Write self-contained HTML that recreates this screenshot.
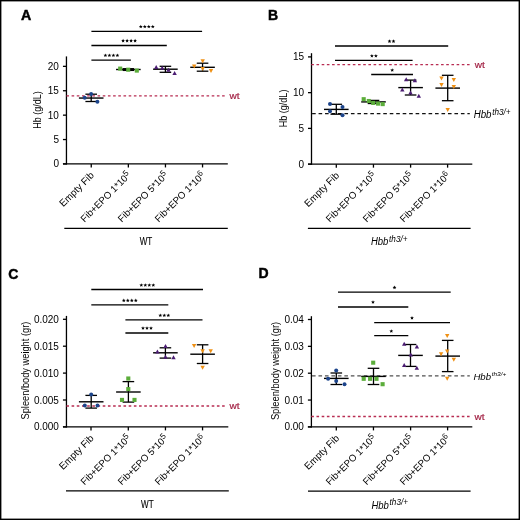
<!DOCTYPE html>
<html><head><meta charset="utf-8"><title>Figure</title>
<style>
html,body{margin:0;padding:0;background:#fff;}
body{width:520px;height:520px;overflow:hidden;}
.fig{position:relative;width:520px;height:520px;box-sizing:border-box;}
svg{position:absolute;left:0;top:0;display:block;will-change:transform;}
text{font-family:"Liberation Sans", sans-serif;}
</style></head>
<body><div class="fig">
<svg width="520" height="520" viewBox="0 0 520 520" font-family='"Liberation Sans", sans-serif'>
<rect x="0" y="0" width="520" height="520" fill="#fff"/>
<text x="21.00" y="20.20" font-size="14.2" text-anchor="start" fill="#000" font-weight="bold" stroke="#000" stroke-width="0.45">A</text>
<line x1="66.45" y1="56.40" x2="66.45" y2="164.60" stroke="#000" stroke-width="1.3" />
<line x1="62.95" y1="163.95" x2="227.80" y2="163.95" stroke="#000" stroke-width="1.3" />
<line x1="62.95" y1="163.95" x2="66.45" y2="163.95" stroke="#000" stroke-width="1.3" />
<text x="58.95" y="167.45" font-size="10" text-anchor="end" fill="#000" >0</text>
<line x1="62.95" y1="139.55" x2="66.45" y2="139.55" stroke="#000" stroke-width="1.3" />
<text x="58.95" y="143.05" font-size="10" text-anchor="end" fill="#000" >5</text>
<line x1="62.95" y1="115.15" x2="66.45" y2="115.15" stroke="#000" stroke-width="1.3" />
<text x="58.95" y="118.65" font-size="10" text-anchor="end" fill="#000" >10</text>
<line x1="62.95" y1="90.75" x2="66.45" y2="90.75" stroke="#000" stroke-width="1.3" />
<text x="58.95" y="94.25" font-size="10" text-anchor="end" fill="#000" >15</text>
<line x1="62.95" y1="66.35" x2="66.45" y2="66.35" stroke="#000" stroke-width="1.3" />
<text x="58.95" y="69.85" font-size="10" text-anchor="end" fill="#000" >20</text>
<line x1="91.25" y1="163.95" x2="91.25" y2="167.45" stroke="#000" stroke-width="1.3" />
<line x1="128.35" y1="163.95" x2="128.35" y2="167.45" stroke="#000" stroke-width="1.3" />
<line x1="165.45" y1="163.95" x2="165.45" y2="167.45" stroke="#000" stroke-width="1.3" />
<line x1="202.55" y1="163.95" x2="202.55" y2="167.45" stroke="#000" stroke-width="1.3" />
<text x="41.30" y="110.00" font-size="11.2" text-anchor="middle" textLength="37.5" lengthAdjust="spacingAndGlyphs" transform="rotate(-90 41.30 110.00)">Hb (g/dL)</text>
<line x1="66.40" y1="95.90" x2="224.80" y2="95.90" stroke="#b82c52" stroke-width="1.4" stroke-dasharray="2.6 2.59"/>
<text x="229.60" y="98.50" font-size="9.3" fill="#a21f42" stroke="#a21f42" stroke-width="0.18" textLength="10.1" lengthAdjust="spacingAndGlyphs">wt</text>
<line x1="78.90" y1="98.05" x2="103.50" y2="98.05" stroke="#000" stroke-width="1.4" />
<line x1="85.40" y1="94.20" x2="97.00" y2="94.20" stroke="#000" stroke-width="1.3" />
<line x1="85.40" y1="101.50" x2="97.00" y2="101.50" stroke="#000" stroke-width="1.3" />
<line x1="91.20" y1="94.20" x2="91.20" y2="101.50" stroke="#000" stroke-width="1.3" />
<circle cx="84.70" cy="97.80" r="2.0" fill="#1c448b"/>
<circle cx="91.10" cy="94.00" r="2.0" fill="#1c448b"/>
<circle cx="97.40" cy="101.65" r="2.0" fill="#1c448b"/>
<line x1="116.05" y1="69.50" x2="140.65" y2="69.50" stroke="#000" stroke-width="1.4" />
<line x1="122.55" y1="68.70" x2="134.15" y2="68.70" stroke="#000" stroke-width="1.3" />
<line x1="122.55" y1="70.40" x2="134.15" y2="70.40" stroke="#000" stroke-width="1.3" />
<line x1="128.35" y1="68.70" x2="128.35" y2="70.40" stroke="#000" stroke-width="1.3" />
<rect x="118.15" y="66.55" width="4.1" height="4.1" fill="#5bad3a"/>
<rect x="126.15" y="67.65" width="4.1" height="4.1" fill="#5bad3a"/>
<rect x="134.75" y="68.55" width="4.1" height="4.1" fill="#5bad3a"/>
<line x1="153.10" y1="69.20" x2="177.70" y2="69.20" stroke="#000" stroke-width="1.4" />
<line x1="159.60" y1="66.30" x2="171.20" y2="66.30" stroke="#000" stroke-width="1.3" />
<line x1="159.60" y1="72.30" x2="171.20" y2="72.30" stroke="#000" stroke-width="1.3" />
<line x1="165.40" y1="66.30" x2="165.40" y2="72.30" stroke="#000" stroke-width="1.3" />
<polygon points="156.20,65.10 158.40,69.10 154.00,69.10" fill="#4b1c73"/>
<polygon points="162.20,65.70 164.40,69.70 160.00,69.70" fill="#4b1c73"/>
<polygon points="168.50,67.80 170.70,71.80 166.30,71.80" fill="#4b1c73"/>
<polygon points="174.60,71.10 176.80,75.10 172.40,75.10" fill="#4b1c73"/>
<line x1="190.25" y1="67.30" x2="214.85" y2="67.30" stroke="#000" stroke-width="1.4" />
<line x1="196.75" y1="63.20" x2="208.35" y2="63.20" stroke="#000" stroke-width="1.3" />
<line x1="196.75" y1="71.20" x2="208.35" y2="71.20" stroke="#000" stroke-width="1.3" />
<line x1="202.55" y1="63.20" x2="202.55" y2="71.20" stroke="#000" stroke-width="1.3" />
<polygon points="194.20,68.40 196.40,64.40 192.00,64.40" fill="#ef9014"/>
<polygon points="202.70,63.20 204.90,59.20 200.50,59.20" fill="#ef9014"/>
<polygon points="202.70,70.90 204.90,66.90 200.50,66.90" fill="#ef9014"/>
<polygon points="211.00,73.00 213.20,69.00 208.80,69.00" fill="#ef9014"/>
<line x1="91.40" y1="31.40" x2="202.10" y2="31.40" stroke="#000" stroke-width="1.3" />
<polygon points="140.80,24.70 141.33,25.97 142.70,26.08 141.66,26.98 141.98,28.32 140.80,27.60 139.62,28.32 139.94,26.98 138.90,26.08 140.27,25.97" fill="#000"/>
<polygon points="144.80,24.70 145.33,25.97 146.70,26.08 145.66,26.98 145.98,28.32 144.80,27.60 143.62,28.32 143.94,26.98 142.90,26.08 144.27,25.97" fill="#000"/>
<polygon points="148.80,24.70 149.33,25.97 150.70,26.08 149.66,26.98 149.98,28.32 148.80,27.60 147.62,28.32 147.94,26.98 146.90,26.08 148.27,25.97" fill="#000"/>
<polygon points="152.80,24.70 153.33,25.97 154.70,26.08 153.66,26.98 153.98,28.32 152.80,27.60 151.62,28.32 151.94,26.98 150.90,26.08 152.27,25.97" fill="#000"/>
<line x1="91.40" y1="45.50" x2="166.80" y2="45.50" stroke="#000" stroke-width="1.3" />
<polygon points="123.10,38.80 123.63,40.07 125.00,40.18 123.96,41.08 124.28,42.42 123.10,41.70 121.92,42.42 122.24,41.08 121.20,40.18 122.57,40.07" fill="#000"/>
<polygon points="127.10,38.80 127.63,40.07 129.00,40.18 127.96,41.08 128.28,42.42 127.10,41.70 125.92,42.42 126.24,41.08 125.20,40.18 126.57,40.07" fill="#000"/>
<polygon points="131.10,38.80 131.63,40.07 133.00,40.18 131.96,41.08 132.28,42.42 131.10,41.70 129.92,42.42 130.24,41.08 129.20,40.18 130.57,40.07" fill="#000"/>
<polygon points="135.10,38.80 135.63,40.07 137.00,40.18 135.96,41.08 136.28,42.42 135.10,41.70 133.92,42.42 134.24,41.08 133.20,40.18 134.57,40.07" fill="#000"/>
<line x1="91.40" y1="60.06" x2="130.90" y2="60.06" stroke="#000" stroke-width="1.3" />
<polygon points="105.40,53.40 105.93,54.67 107.30,54.78 106.26,55.68 106.58,57.02 105.40,56.30 104.22,57.02 104.54,55.68 103.50,54.78 104.87,54.67" fill="#000"/>
<polygon points="109.40,53.40 109.93,54.67 111.30,54.78 110.26,55.68 110.58,57.02 109.40,56.30 108.22,57.02 108.54,55.68 107.50,54.78 108.87,54.67" fill="#000"/>
<polygon points="113.40,53.40 113.93,54.67 115.30,54.78 114.26,55.68 114.58,57.02 113.40,56.30 112.22,57.02 112.54,55.68 111.50,54.78 112.87,54.67" fill="#000"/>
<polygon points="117.40,53.40 117.93,54.67 119.30,54.78 118.26,55.68 118.58,57.02 117.40,56.30 116.22,57.02 116.54,55.68 115.50,54.78 116.87,54.67" fill="#000"/>
<text x="94.75" y="175.95" font-size="9.9" text-anchor="end" transform="rotate(-45 94.75 175.95)">Empty Fib</text>
<text x="131.55" y="175.75" font-size="9.65" text-anchor="end" transform="rotate(-45 131.55 175.75)">Fib+EPO 1*10<tspan dy="-3.2" font-size="8.2">5</tspan></text>
<text x="168.65" y="175.75" font-size="9.65" text-anchor="end" transform="rotate(-45 168.65 175.75)">Fib+EPO 5*10<tspan dy="-3.2" font-size="8.2">5</tspan></text>
<text x="205.75" y="175.75" font-size="9.65" text-anchor="end" transform="rotate(-45 205.75 175.75)">Fib+EPO 1*10<tspan dy="-3.2" font-size="8.2">6</tspan></text>
<line x1="64.30" y1="228.40" x2="227.80" y2="228.40" stroke="#000" stroke-width="1.25" />
<text x="146.00" y="244.60" font-size="10.6" text-anchor="middle" stroke="#000" stroke-width="0.12" textLength="12.6" lengthAdjust="spacingAndGlyphs">WT</text>
<text x="268.00" y="20.10" font-size="14.0" text-anchor="start" fill="#000" font-weight="bold" stroke="#000" stroke-width="0.45">B</text>
<line x1="311.50" y1="53.20" x2="311.50" y2="164.80" stroke="#000" stroke-width="1.3" />
<line x1="308.00" y1="164.15" x2="472.30" y2="164.15" stroke="#000" stroke-width="1.3" />
<line x1="308.00" y1="164.15" x2="311.50" y2="164.15" stroke="#000" stroke-width="1.3" />
<text x="304.00" y="167.65" font-size="10" text-anchor="end" fill="#000" >0</text>
<line x1="308.00" y1="128.40" x2="311.50" y2="128.40" stroke="#000" stroke-width="1.3" />
<text x="304.00" y="131.90" font-size="10" text-anchor="end" fill="#000" >5</text>
<line x1="308.00" y1="92.65" x2="311.50" y2="92.65" stroke="#000" stroke-width="1.3" />
<text x="304.00" y="96.15" font-size="10" text-anchor="end" fill="#000" >10</text>
<line x1="308.00" y1="56.90" x2="311.50" y2="56.90" stroke="#000" stroke-width="1.3" />
<text x="304.00" y="60.40" font-size="10" text-anchor="end" fill="#000" >15</text>
<line x1="336.30" y1="164.15" x2="336.30" y2="167.65" stroke="#000" stroke-width="1.3" />
<line x1="373.45" y1="164.15" x2="373.45" y2="167.65" stroke="#000" stroke-width="1.3" />
<line x1="410.60" y1="164.15" x2="410.60" y2="167.65" stroke="#000" stroke-width="1.3" />
<line x1="447.60" y1="164.15" x2="447.60" y2="167.65" stroke="#000" stroke-width="1.3" />
<text x="286.70" y="108.40" font-size="11.2" text-anchor="middle" textLength="37.6" lengthAdjust="spacingAndGlyphs" transform="rotate(-90 286.70 108.40)">Hb (g/dL)</text>
<line x1="311.30" y1="64.60" x2="470.00" y2="64.60" stroke="#b82c52" stroke-width="1.4" stroke-dasharray="2.6 2.59"/>
<text x="474.80" y="67.70" font-size="9.3" fill="#a21f42" stroke="#a21f42" stroke-width="0.18" textLength="10.1" lengthAdjust="spacingAndGlyphs">wt</text>
<line x1="312.10" y1="113.60" x2="469.80" y2="113.60" stroke="#111" stroke-width="1.35" stroke-dasharray="3.6 2.87"/>
<text x="473.70" y="118.30" font-size="10" font-style="italic" textLength="17.8" lengthAdjust="spacingAndGlyphs">Hbb</text>
<text x="492.20" y="114.70" font-size="8.6" font-style="italic" textLength="18.4" lengthAdjust="spacingAndGlyphs">th3/+</text>
<line x1="324.00" y1="109.40" x2="348.60" y2="109.40" stroke="#000" stroke-width="1.4" />
<line x1="330.50" y1="104.30" x2="342.10" y2="104.30" stroke="#000" stroke-width="1.3" />
<line x1="330.50" y1="114.20" x2="342.10" y2="114.20" stroke="#000" stroke-width="1.3" />
<line x1="336.30" y1="104.30" x2="336.30" y2="114.20" stroke="#000" stroke-width="1.3" />
<circle cx="330.00" cy="104.00" r="2.0" fill="#1c448b"/>
<circle cx="342.50" cy="107.00" r="2.0" fill="#1c448b"/>
<circle cx="330.00" cy="111.20" r="2.0" fill="#1c448b"/>
<circle cx="342.50" cy="115.30" r="2.0" fill="#1c448b"/>
<line x1="361.20" y1="101.90" x2="385.80" y2="101.90" stroke="#000" stroke-width="1.4" />
<line x1="367.70" y1="100.40" x2="379.30" y2="100.40" stroke="#000" stroke-width="1.3" />
<line x1="367.70" y1="103.50" x2="379.30" y2="103.50" stroke="#000" stroke-width="1.3" />
<line x1="373.50" y1="100.40" x2="373.50" y2="103.50" stroke="#000" stroke-width="1.3" />
<rect x="361.65" y="97.15" width="4.1" height="4.1" fill="#5bad3a"/>
<rect x="366.75" y="98.95" width="4.1" height="4.1" fill="#5bad3a"/>
<rect x="371.15" y="100.85" width="4.1" height="4.1" fill="#5bad3a"/>
<rect x="376.05" y="101.55" width="4.1" height="4.1" fill="#5bad3a"/>
<rect x="380.65" y="102.05" width="4.1" height="4.1" fill="#5bad3a"/>
<line x1="398.30" y1="87.60" x2="422.90" y2="87.60" stroke="#000" stroke-width="1.4" />
<line x1="404.80" y1="80.10" x2="416.40" y2="80.10" stroke="#000" stroke-width="1.3" />
<line x1="404.80" y1="95.00" x2="416.40" y2="95.00" stroke="#000" stroke-width="1.3" />
<line x1="410.60" y1="80.10" x2="410.60" y2="95.00" stroke="#000" stroke-width="1.3" />
<polygon points="406.20,77.20 408.40,81.20 404.00,81.20" fill="#4b1c73"/>
<polygon points="414.90,78.30 417.10,82.30 412.70,82.30" fill="#4b1c73"/>
<polygon points="402.30,87.50 404.50,91.50 400.10,91.50" fill="#4b1c73"/>
<polygon points="410.50,90.60 412.70,94.60 408.30,94.60" fill="#4b1c73"/>
<polygon points="418.80,93.80 421.00,97.80 416.60,97.80" fill="#4b1c73"/>
<line x1="435.40" y1="88.10" x2="460.00" y2="88.10" stroke="#000" stroke-width="1.4" />
<line x1="441.90" y1="75.30" x2="453.50" y2="75.30" stroke="#000" stroke-width="1.3" />
<line x1="441.90" y1="100.70" x2="453.50" y2="100.70" stroke="#000" stroke-width="1.3" />
<line x1="447.70" y1="75.30" x2="447.70" y2="100.70" stroke="#000" stroke-width="1.3" />
<polygon points="441.50,80.50 443.70,76.50 439.30,76.50" fill="#ef9014"/>
<polygon points="453.80,82.00 456.00,78.00 451.60,78.00" fill="#ef9014"/>
<polygon points="441.50,87.10 443.70,83.10 439.30,83.10" fill="#ef9014"/>
<polygon points="453.80,88.90 456.00,84.90 451.60,84.90" fill="#ef9014"/>
<polygon points="447.70,112.00 449.90,108.00 445.50,108.00" fill="#ef9014"/>
<line x1="335.00" y1="46.00" x2="448.20" y2="46.00" stroke="#000" stroke-width="1.3" />
<polygon points="389.50,39.30 390.03,40.57 391.40,40.68 390.36,41.58 390.68,42.92 389.50,42.20 388.32,42.92 388.64,41.58 387.60,40.68 388.97,40.57" fill="#000"/>
<polygon points="393.50,39.30 394.03,40.57 395.40,40.68 394.36,41.58 394.68,42.92 393.50,42.20 392.32,42.92 392.64,41.58 391.60,40.68 392.97,40.57" fill="#000"/>
<line x1="335.00" y1="60.45" x2="412.60" y2="60.45" stroke="#000" stroke-width="1.3" />
<polygon points="371.90,53.90 372.43,55.17 373.80,55.28 372.76,56.18 373.08,57.52 371.90,56.80 370.72,57.52 371.04,56.18 370.00,55.28 371.37,55.17" fill="#000"/>
<polygon points="375.90,53.90 376.43,55.17 377.80,55.28 376.76,56.18 377.08,57.52 375.90,56.80 374.72,57.52 375.04,56.18 374.00,55.28 375.37,55.17" fill="#000"/>
<line x1="371.20" y1="74.50" x2="413.00" y2="74.50" stroke="#000" stroke-width="1.3" />
<polygon points="392.20,68.20 392.73,69.47 394.10,69.58 393.06,70.48 393.38,71.82 392.20,71.10 391.02,71.82 391.34,70.48 390.30,69.58 391.67,69.47" fill="#000"/>
<text x="339.80" y="176.15" font-size="9.9" text-anchor="end" transform="rotate(-45 339.80 176.15)">Empty Fib</text>
<text x="376.65" y="175.95" font-size="9.65" text-anchor="end" transform="rotate(-45 376.65 175.95)">Fib+EPO 1*10<tspan dy="-3.2" font-size="8.2">5</tspan></text>
<text x="413.80" y="175.95" font-size="9.65" text-anchor="end" transform="rotate(-45 413.80 175.95)">Fib+EPO 5*10<tspan dy="-3.2" font-size="8.2">5</tspan></text>
<text x="450.80" y="175.95" font-size="9.65" text-anchor="end" transform="rotate(-45 450.80 175.95)">Fib+EPO 1*10<tspan dy="-3.2" font-size="8.2">6</tspan></text>
<line x1="307.90" y1="228.40" x2="470.60" y2="228.40" stroke="#000" stroke-width="1.25" />
<text x="371.00" y="245.40" font-size="10" font-style="italic" textLength="17.4" lengthAdjust="spacingAndGlyphs">Hbb</text>
<text x="389.10" y="241.80" font-size="8.6" font-style="italic" textLength="18.4" lengthAdjust="spacingAndGlyphs">th3/+</text>
<text x="8.30" y="278.50" font-size="14.0" text-anchor="start" fill="#000" font-weight="bold" stroke="#000" stroke-width="0.45">C</text>
<line x1="66.45" y1="315.90" x2="66.45" y2="427.55" stroke="#000" stroke-width="1.3" />
<line x1="62.95" y1="426.90" x2="228.30" y2="426.90" stroke="#000" stroke-width="1.3" />
<line x1="62.95" y1="426.90" x2="66.45" y2="426.90" stroke="#000" stroke-width="1.3" />
<text x="58.95" y="430.40" font-size="10" text-anchor="end" fill="#000" >0.000</text>
<line x1="62.95" y1="400.00" x2="66.45" y2="400.00" stroke="#000" stroke-width="1.3" />
<text x="58.95" y="403.50" font-size="10" text-anchor="end" fill="#000" >0.005</text>
<line x1="62.95" y1="373.10" x2="66.45" y2="373.10" stroke="#000" stroke-width="1.3" />
<text x="58.95" y="376.60" font-size="10" text-anchor="end" fill="#000" >0.010</text>
<line x1="62.95" y1="346.20" x2="66.45" y2="346.20" stroke="#000" stroke-width="1.3" />
<text x="58.95" y="349.70" font-size="10" text-anchor="end" fill="#000" >0.015</text>
<line x1="62.95" y1="319.30" x2="66.45" y2="319.30" stroke="#000" stroke-width="1.3" />
<text x="58.95" y="322.80" font-size="10" text-anchor="end" fill="#000" >0.020</text>
<line x1="91.00" y1="426.90" x2="91.00" y2="430.40" stroke="#000" stroke-width="1.3" />
<line x1="128.30" y1="426.90" x2="128.30" y2="430.40" stroke="#000" stroke-width="1.3" />
<line x1="165.45" y1="426.90" x2="165.45" y2="430.40" stroke="#000" stroke-width="1.3" />
<line x1="202.55" y1="426.90" x2="202.55" y2="430.40" stroke="#000" stroke-width="1.3" />
<text x="28.80" y="370.60" font-size="11.4" text-anchor="middle" textLength="97.8" lengthAdjust="spacingAndGlyphs" transform="rotate(-90 28.80 370.60)">Spleen/body weight (gr)</text>
<line x1="66.40" y1="405.95" x2="224.80" y2="405.95" stroke="#b82c52" stroke-width="1.4" stroke-dasharray="2.6 2.59"/>
<text x="229.40" y="408.70" font-size="9.3" fill="#a21f42" stroke="#a21f42" stroke-width="0.18" textLength="10.1" lengthAdjust="spacingAndGlyphs">wt</text>
<line x1="78.90" y1="401.80" x2="103.50" y2="401.80" stroke="#000" stroke-width="1.4" />
<line x1="85.40" y1="395.40" x2="97.00" y2="395.40" stroke="#000" stroke-width="1.3" />
<line x1="85.40" y1="408.10" x2="97.00" y2="408.10" stroke="#000" stroke-width="1.3" />
<line x1="91.20" y1="395.40" x2="91.20" y2="408.10" stroke="#000" stroke-width="1.3" />
<circle cx="91.20" cy="394.50" r="2.0" fill="#1c448b"/>
<circle cx="84.80" cy="405.50" r="2.0" fill="#1c448b"/>
<circle cx="97.50" cy="405.50" r="2.0" fill="#1c448b"/>
<line x1="116.10" y1="392.00" x2="140.70" y2="392.00" stroke="#000" stroke-width="1.4" />
<line x1="122.60" y1="381.60" x2="134.20" y2="381.60" stroke="#000" stroke-width="1.3" />
<line x1="122.60" y1="402.10" x2="134.20" y2="402.10" stroke="#000" stroke-width="1.3" />
<line x1="128.40" y1="381.60" x2="128.40" y2="402.10" stroke="#000" stroke-width="1.3" />
<rect x="126.25" y="376.45" width="4.1" height="4.1" fill="#5bad3a"/>
<rect x="126.25" y="387.05" width="4.1" height="4.1" fill="#5bad3a"/>
<rect x="119.95" y="397.85" width="4.1" height="4.1" fill="#5bad3a"/>
<rect x="132.45" y="397.85" width="4.1" height="4.1" fill="#5bad3a"/>
<line x1="153.10" y1="352.80" x2="177.70" y2="352.80" stroke="#000" stroke-width="1.4" />
<line x1="159.60" y1="347.80" x2="171.20" y2="347.80" stroke="#000" stroke-width="1.3" />
<line x1="159.60" y1="358.10" x2="171.20" y2="358.10" stroke="#000" stroke-width="1.3" />
<line x1="165.40" y1="347.80" x2="165.40" y2="358.10" stroke="#000" stroke-width="1.3" />
<polygon points="165.50,344.00 167.70,348.00 163.30,348.00" fill="#4b1c73"/>
<polygon points="157.40,349.40 159.60,353.40 155.20,353.40" fill="#4b1c73"/>
<polygon points="165.50,354.80 167.70,358.80 163.30,358.80" fill="#4b1c73"/>
<polygon points="173.50,355.20 175.70,359.20 171.30,359.20" fill="#4b1c73"/>
<line x1="190.30" y1="354.20" x2="214.90" y2="354.20" stroke="#000" stroke-width="1.4" />
<line x1="196.80" y1="344.80" x2="208.40" y2="344.80" stroke="#000" stroke-width="1.3" />
<line x1="196.80" y1="363.50" x2="208.40" y2="363.50" stroke="#000" stroke-width="1.3" />
<line x1="202.60" y1="344.80" x2="202.60" y2="363.50" stroke="#000" stroke-width="1.3" />
<polygon points="194.10,347.90 196.30,343.90 191.90,343.90" fill="#ef9014"/>
<polygon points="202.60,353.30 204.80,349.30 200.40,349.30" fill="#ef9014"/>
<polygon points="210.70,353.30 212.90,349.30 208.50,349.30" fill="#ef9014"/>
<polygon points="202.60,369.70 204.80,365.70 200.40,365.70" fill="#ef9014"/>
<line x1="91.30" y1="289.50" x2="203.00" y2="289.50" stroke="#000" stroke-width="1.3" />
<polygon points="141.30,283.20 141.83,284.47 143.20,284.58 142.16,285.48 142.48,286.82 141.30,286.10 140.12,286.82 140.44,285.48 139.40,284.58 140.77,284.47" fill="#000"/>
<polygon points="145.30,283.20 145.83,284.47 147.20,284.58 146.16,285.48 146.48,286.82 145.30,286.10 144.12,286.82 144.44,285.48 143.40,284.58 144.77,284.47" fill="#000"/>
<polygon points="149.30,283.20 149.83,284.47 151.20,284.58 150.16,285.48 150.48,286.82 149.30,286.10 148.12,286.82 148.44,285.48 147.40,284.58 148.77,284.47" fill="#000"/>
<polygon points="153.30,283.20 153.83,284.47 155.20,284.58 154.16,285.48 154.48,286.82 153.30,286.10 152.12,286.82 152.44,285.48 151.40,284.58 152.77,284.47" fill="#000"/>
<line x1="91.30" y1="304.90" x2="168.30" y2="304.90" stroke="#000" stroke-width="1.3" />
<polygon points="123.80,298.50 124.33,299.77 125.70,299.88 124.66,300.78 124.98,302.12 123.80,301.40 122.62,302.12 122.94,300.78 121.90,299.88 123.27,299.77" fill="#000"/>
<polygon points="127.80,298.50 128.33,299.77 129.70,299.88 128.66,300.78 128.98,302.12 127.80,301.40 126.62,302.12 126.94,300.78 125.90,299.88 127.27,299.77" fill="#000"/>
<polygon points="131.80,298.50 132.33,299.77 133.70,299.88 132.66,300.78 132.98,302.12 131.80,301.40 130.62,302.12 130.94,300.78 129.90,299.88 131.27,299.77" fill="#000"/>
<polygon points="135.80,298.50 136.33,299.77 137.70,299.88 136.66,300.78 136.98,302.12 135.80,301.40 134.62,302.12 134.94,300.78 133.90,299.88 135.27,299.77" fill="#000"/>
<line x1="125.40" y1="319.90" x2="202.50" y2="319.90" stroke="#000" stroke-width="1.3" />
<polygon points="160.30,313.40 160.83,314.67 162.20,314.78 161.16,315.68 161.48,317.02 160.30,316.30 159.12,317.02 159.44,315.68 158.40,314.78 159.77,314.67" fill="#000"/>
<polygon points="164.30,313.40 164.83,314.67 166.20,314.78 165.16,315.68 165.48,317.02 164.30,316.30 163.12,317.02 163.44,315.68 162.40,314.78 163.77,314.67" fill="#000"/>
<polygon points="168.30,313.40 168.83,314.67 170.20,314.78 169.16,315.68 169.48,317.02 168.30,316.30 167.12,317.02 167.44,315.68 166.40,314.78 167.77,314.67" fill="#000"/>
<line x1="125.40" y1="333.00" x2="168.30" y2="333.00" stroke="#000" stroke-width="1.3" />
<polygon points="143.00,326.20 143.53,327.47 144.90,327.58 143.86,328.48 144.18,329.82 143.00,329.10 141.82,329.82 142.14,328.48 141.10,327.58 142.47,327.47" fill="#000"/>
<polygon points="147.00,326.20 147.53,327.47 148.90,327.58 147.86,328.48 148.18,329.82 147.00,329.10 145.82,329.82 146.14,328.48 145.10,327.58 146.47,327.47" fill="#000"/>
<polygon points="151.00,326.20 151.53,327.47 152.90,327.58 151.86,328.48 152.18,329.82 151.00,329.10 149.82,329.82 150.14,328.48 149.10,327.58 150.47,327.47" fill="#000"/>
<text x="94.50" y="438.90" font-size="9.9" text-anchor="end" transform="rotate(-45 94.50 438.90)">Empty Fib</text>
<text x="131.50" y="438.70" font-size="9.65" text-anchor="end" transform="rotate(-45 131.50 438.70)">Fib+EPO 1*10<tspan dy="-3.2" font-size="8.2">5</tspan></text>
<text x="168.65" y="438.70" font-size="9.65" text-anchor="end" transform="rotate(-45 168.65 438.70)">Fib+EPO 5*10<tspan dy="-3.2" font-size="8.2">5</tspan></text>
<text x="205.75" y="438.70" font-size="9.65" text-anchor="end" transform="rotate(-45 205.75 438.70)">Fib+EPO 1*10<tspan dy="-3.2" font-size="8.2">6</tspan></text>
<line x1="66.00" y1="490.80" x2="228.80" y2="490.80" stroke="#000" stroke-width="1.25" />
<text x="147.30" y="508.30" font-size="10.6" text-anchor="middle" stroke="#000" stroke-width="0.12" textLength="12.6" lengthAdjust="spacingAndGlyphs">WT</text>
<text x="258.40" y="277.90" font-size="14.0" text-anchor="start" fill="#000" font-weight="bold" stroke="#000" stroke-width="0.45">D</text>
<line x1="311.40" y1="316.20" x2="311.40" y2="427.55" stroke="#000" stroke-width="1.3" />
<line x1="307.90" y1="426.90" x2="472.30" y2="426.90" stroke="#000" stroke-width="1.3" />
<line x1="307.90" y1="426.90" x2="311.40" y2="426.90" stroke="#000" stroke-width="1.3" />
<text x="303.90" y="430.40" font-size="10" text-anchor="end" fill="#000" >0.00</text>
<line x1="307.90" y1="400.05" x2="311.40" y2="400.05" stroke="#000" stroke-width="1.3" />
<text x="303.90" y="403.55" font-size="10" text-anchor="end" fill="#000" >0.01</text>
<line x1="307.90" y1="373.20" x2="311.40" y2="373.20" stroke="#000" stroke-width="1.3" />
<text x="303.90" y="376.70" font-size="10" text-anchor="end" fill="#000" >0.02</text>
<line x1="307.90" y1="346.35" x2="311.40" y2="346.35" stroke="#000" stroke-width="1.3" />
<text x="303.90" y="349.85" font-size="10" text-anchor="end" fill="#000" >0.03</text>
<line x1="307.90" y1="319.50" x2="311.40" y2="319.50" stroke="#000" stroke-width="1.3" />
<text x="303.90" y="323.00" font-size="10" text-anchor="end" fill="#000" >0.04</text>
<line x1="336.30" y1="426.90" x2="336.30" y2="430.40" stroke="#000" stroke-width="1.3" />
<line x1="373.45" y1="426.90" x2="373.45" y2="430.40" stroke="#000" stroke-width="1.3" />
<line x1="410.60" y1="426.90" x2="410.60" y2="430.40" stroke="#000" stroke-width="1.3" />
<line x1="447.60" y1="426.90" x2="447.60" y2="430.40" stroke="#000" stroke-width="1.3" />
<text x="279.20" y="371.00" font-size="11.4" text-anchor="middle" textLength="98.2" lengthAdjust="spacingAndGlyphs" transform="rotate(-90 279.20 371.00)">Spleen/body weight (gr)</text>
<line x1="312.00" y1="375.85" x2="469.80" y2="375.85" stroke="#505050" stroke-width="1.3" stroke-dasharray="3.6 2.87"/>
<text x="473.40" y="380.30" font-size="9.3" font-style="italic" textLength="17.6" lengthAdjust="spacingAndGlyphs">Hbb</text>
<text x="491.70" y="376.00" font-size="6.0" font-style="italic" textLength="14.6" lengthAdjust="spacingAndGlyphs">th3/+</text>
<line x1="311.30" y1="416.50" x2="470.00" y2="416.50" stroke="#b82c52" stroke-width="1.4" stroke-dasharray="2.6 2.59"/>
<text x="474.40" y="419.60" font-size="9.3" fill="#a21f42" stroke="#a21f42" stroke-width="0.18" textLength="10.1" lengthAdjust="spacingAndGlyphs">wt</text>
<line x1="324.00" y1="378.40" x2="348.60" y2="378.40" stroke="#000" stroke-width="1.4" />
<line x1="330.50" y1="373.00" x2="342.10" y2="373.00" stroke="#000" stroke-width="1.3" />
<line x1="330.50" y1="384.50" x2="342.10" y2="384.50" stroke="#000" stroke-width="1.3" />
<line x1="336.30" y1="373.00" x2="336.30" y2="384.50" stroke="#000" stroke-width="1.3" />
<circle cx="336.20" cy="370.50" r="2.0" fill="#1c448b"/>
<circle cx="328.10" cy="378.80" r="2.0" fill="#1c448b"/>
<circle cx="336.20" cy="381.10" r="2.0" fill="#1c448b"/>
<circle cx="344.50" cy="384.20" r="2.0" fill="#1c448b"/>
<line x1="361.20" y1="376.40" x2="385.80" y2="376.40" stroke="#000" stroke-width="1.4" />
<line x1="367.70" y1="368.30" x2="379.30" y2="368.30" stroke="#000" stroke-width="1.3" />
<line x1="367.70" y1="384.50" x2="379.30" y2="384.50" stroke="#000" stroke-width="1.3" />
<line x1="373.50" y1="368.30" x2="373.50" y2="384.50" stroke="#000" stroke-width="1.3" />
<rect x="371.15" y="360.65" width="4.1" height="4.1" fill="#5bad3a"/>
<rect x="361.65" y="376.75" width="4.1" height="4.1" fill="#5bad3a"/>
<rect x="368.05" y="376.75" width="4.1" height="4.1" fill="#5bad3a"/>
<rect x="374.45" y="376.75" width="4.1" height="4.1" fill="#5bad3a"/>
<rect x="380.55" y="382.15" width="4.1" height="4.1" fill="#5bad3a"/>
<line x1="398.20" y1="355.40" x2="422.80" y2="355.40" stroke="#000" stroke-width="1.4" />
<line x1="404.70" y1="344.50" x2="416.30" y2="344.50" stroke="#000" stroke-width="1.3" />
<line x1="404.70" y1="366.40" x2="416.30" y2="366.40" stroke="#000" stroke-width="1.3" />
<line x1="410.50" y1="344.50" x2="410.50" y2="366.40" stroke="#000" stroke-width="1.3" />
<polygon points="404.20,341.80 406.40,345.80 402.00,345.80" fill="#4b1c73"/>
<polygon points="416.90,344.60 419.10,348.60 414.70,348.60" fill="#4b1c73"/>
<polygon points="410.80,352.60 413.00,356.60 408.60,356.60" fill="#4b1c73"/>
<polygon points="404.20,363.10 406.40,367.10 402.00,367.10" fill="#4b1c73"/>
<polygon points="416.80,365.80 419.00,369.80 414.60,369.80" fill="#4b1c73"/>
<line x1="435.40" y1="356.10" x2="460.00" y2="356.10" stroke="#000" stroke-width="1.4" />
<line x1="441.90" y1="340.40" x2="453.50" y2="340.40" stroke="#000" stroke-width="1.3" />
<line x1="441.90" y1="371.60" x2="453.50" y2="371.60" stroke="#000" stroke-width="1.3" />
<line x1="447.70" y1="340.40" x2="447.70" y2="371.60" stroke="#000" stroke-width="1.3" />
<polygon points="447.20,337.90 449.40,333.90 445.00,333.90" fill="#ef9014"/>
<polygon points="447.20,353.60 449.40,349.60 445.00,349.60" fill="#ef9014"/>
<polygon points="441.10,356.20 443.30,352.20 438.90,352.20" fill="#ef9014"/>
<polygon points="453.80,361.70 456.00,357.70 451.60,357.70" fill="#ef9014"/>
<polygon points="447.20,380.80 449.40,376.80 445.00,376.80" fill="#ef9014"/>
<line x1="338.00" y1="292.10" x2="450.70" y2="292.10" stroke="#000" stroke-width="1.3" />
<polygon points="394.50,285.60 395.03,286.87 396.40,286.98 395.36,287.88 395.68,289.22 394.50,288.50 393.32,289.22 393.64,287.88 392.60,286.98 393.97,286.87" fill="#000"/>
<line x1="338.00" y1="307.00" x2="408.30" y2="307.00" stroke="#000" stroke-width="1.3" />
<polygon points="373.00,300.20 373.53,301.47 374.90,301.58 373.86,302.48 374.18,303.82 373.00,303.10 371.82,303.82 372.14,302.48 371.10,301.58 372.47,301.47" fill="#000"/>
<line x1="374.20" y1="322.60" x2="450.00" y2="322.60" stroke="#000" stroke-width="1.3" />
<polygon points="412.00,316.00 412.53,317.27 413.90,317.38 412.86,318.28 413.18,319.62 412.00,318.90 410.82,319.62 411.14,318.28 410.10,317.38 411.47,317.27" fill="#000"/>
<line x1="374.20" y1="335.60" x2="408.30" y2="335.60" stroke="#000" stroke-width="1.3" />
<polygon points="391.30,329.20 391.83,330.47 393.20,330.58 392.16,331.48 392.48,332.82 391.30,332.10 390.12,332.82 390.44,331.48 389.40,330.58 390.77,330.47" fill="#000"/>
<text x="339.80" y="438.90" font-size="9.9" text-anchor="end" transform="rotate(-45 339.80 438.90)">Empty Fib</text>
<text x="376.65" y="438.70" font-size="9.65" text-anchor="end" transform="rotate(-45 376.65 438.70)">Fib+EPO 1*10<tspan dy="-3.2" font-size="8.2">5</tspan></text>
<text x="413.80" y="438.70" font-size="9.65" text-anchor="end" transform="rotate(-45 413.80 438.70)">Fib+EPO 5*10<tspan dy="-3.2" font-size="8.2">5</tspan></text>
<text x="450.80" y="438.70" font-size="9.65" text-anchor="end" transform="rotate(-45 450.80 438.70)">Fib+EPO 1*10<tspan dy="-3.2" font-size="8.2">6</tspan></text>
<line x1="308.00" y1="491.00" x2="470.60" y2="491.00" stroke="#000" stroke-width="1.25" />
<text x="371.50" y="508.50" font-size="10.2" font-style="italic" textLength="17.4" lengthAdjust="spacingAndGlyphs">Hbb</text>
<text x="389.60" y="504.90" font-size="8.6" font-style="italic" textLength="18.4" lengthAdjust="spacingAndGlyphs">th3/+</text>
<rect x="0.7" y="0.7" width="518.6" height="518.6" fill="none" stroke="#000" stroke-width="1.4"/>
</svg>
</div></body></html>
